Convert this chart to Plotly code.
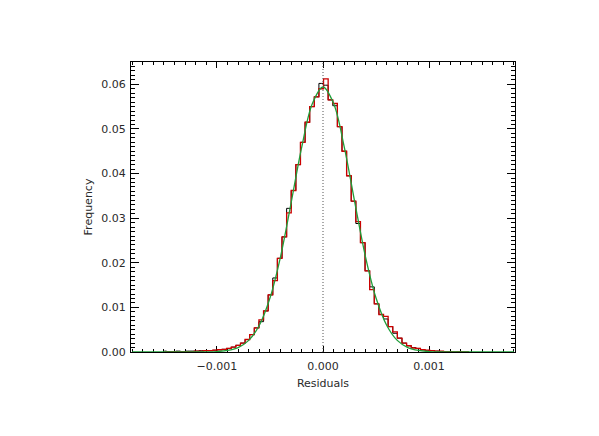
import plotly.graph_objects as go

# Histogram bins (first bin index and bin width, data units)
bin_first_index = -35
bin_width = 0.0000435
bin_offset = 0.000005

red_freq = [0.0000, 0.0000, 0.0001, 0.0000, 0.0001, 0.0001, 0.0001, 0.0002, 0.0002, 0.0003,
            0.0003, 0.0004, 0.0005, 0.0006, 0.0008, 0.0011, 0.0015, 0.0020, 0.0028, 0.0039,
            0.0054, 0.0072, 0.0092, 0.0128, 0.0160, 0.0210, 0.0258, 0.0312, 0.0362, 0.0420,
            0.0470, 0.0515, 0.0550, 0.0572, 0.0590, 0.0612, 0.0565, 0.0557, 0.0505, 0.0450,
            0.0395, 0.0338, 0.0292, 0.0245, 0.0182, 0.0140, 0.0108, 0.0084, 0.0080, 0.0057,
            0.0045, 0.0031, 0.0020, 0.0014, 0.0009, 0.0008, 0.0005, 0.0004, 0.0003, 0.0002,
            0.0002, 0.0001, 0.0001, 0.0000, 0.0001, 0.0000, 0.0000]

black_freq = [0.0002, 0.0001, 0.0001, 0.0002, 0.0001, 0.0002, 0.0002, 0.0002, 0.0003, 0.0003,
              0.0003, 0.0004, 0.0005, 0.0006, 0.0008, 0.0011, 0.0015, 0.0020, 0.0028, 0.0039,
              0.0054, 0.0068, 0.0092, 0.0128, 0.0166, 0.0210, 0.0258, 0.0322, 0.0362, 0.0420,
              0.0470, 0.0515, 0.0550, 0.0572, 0.0602, 0.0598, 0.0565, 0.0552, 0.0505, 0.0450,
              0.0395, 0.0338, 0.0288, 0.0245, 0.0182, 0.0146, 0.0108, 0.0084, 0.0074, 0.0057,
              0.0042, 0.0031, 0.0020, 0.0014, 0.0010, 0.0008, 0.0005, 0.0003, 0.0003, 0.0002,
              0.0001, 0.0001, 0.0000, 0.0000, 0.0000, 0.0000, 0.0000]

# Gaussian fit curve, every 0.0001
fit_x = [i * 0.0001 for i in range(-18, 19)]
fit_y = [0, 0, 0, 0, 0, 0, 0.00001, 0.00003, 0.00010, 0.00034, 0.0010, 0.0026, 0.0060,
         0.0121, 0.0214, 0.0335, 0.0460, 0.0557, 0.0594, 0.0557, 0.0460, 0.0335, 0.0214,
         0.0121, 0.0060, 0.0026, 0.0010, 0.00034, 0.00010, 0.00003, 0.00001, 0, 0, 0, 0, 0, 0]

x_tick_vals = [-0.001, 0.0, 0.001]
x_tick_text = ["\u22120.001", "0.000", "0.001"]
y_tick_vals = [0.00, 0.01, 0.02, 0.03, 0.04, 0.05, 0.06]
y_tick_text = ["0.00", "0.01", "0.02", "0.03", "0.04", "0.05", "0.06"]

x_range = [-0.00181, 0.00181]
y_range = [0.0, 0.065]

centers = [bin_offset + (bin_first_index + i) * bin_width + bin_width / 2
           for i in range(len(red_freq))]

fig = go.Figure()
fig.add_trace(go.Scatter(x=centers, y=black_freq, mode="lines", line_shape="hvh",
                         line=dict(color="black", width=1.0), showlegend=False))
fig.add_trace(go.Scatter(x=centers, y=red_freq, mode="lines", line_shape="hvh",
                         line=dict(color="#cc0000", width=1.3), showlegend=False))
fig.add_trace(go.Scatter(x=fit_x, y=fit_y, mode="lines", line_shape="spline",
                         line=dict(color="#1f9e3a", width=1.3), showlegend=False))
fig.add_trace(go.Scatter(x=[0, 0], y=y_range, mode="lines",
                         line=dict(color="#555555", width=1, dash="1px,2px"), showlegend=False))

font = dict(family="DejaVu Sans", size=11, color="#2a2a2a")
fig.update_layout(
    width=599, height=436,
    margin=dict(l=123, r=92, t=54, b=92),
    paper_bgcolor="white", plot_bgcolor="white",
    font=font,
    xaxis=dict(range=x_range, tickvals=x_tick_vals, ticktext=x_tick_text,
               ticks="inside", ticklen=6, tickcolor="black", tickwidth=1,
               showline=True, linecolor="black", linewidth=1, mirror="allticks",
               showgrid=False, zeroline=False, layer="below traces",
               ticklabelstandoff=4,
               minor=dict(ticks="inside", ticklen=3, dtick=0.0001, tick0=0,
                          tickcolor="black", showgrid=False),
               title=dict(text="Residuals", standoff=7, font=font)),
    yaxis=dict(range=y_range, tickvals=y_tick_vals, ticktext=y_tick_text,
               ticks="inside", ticklen=8, tickcolor="black", tickwidth=1,
               showline=True, linecolor="black", linewidth=1, mirror="allticks",
               showgrid=False, zeroline=False, layer="below traces",
               ticklabelstandoff=2,
               minor=dict(ticks="inside", ticklen=4, dtick=0.001, tick0=0,
                          tickcolor="black", showgrid=False),
               title=dict(text="Frequency", standoff=6, font=font)),
)

fig.write_html("out.html")
